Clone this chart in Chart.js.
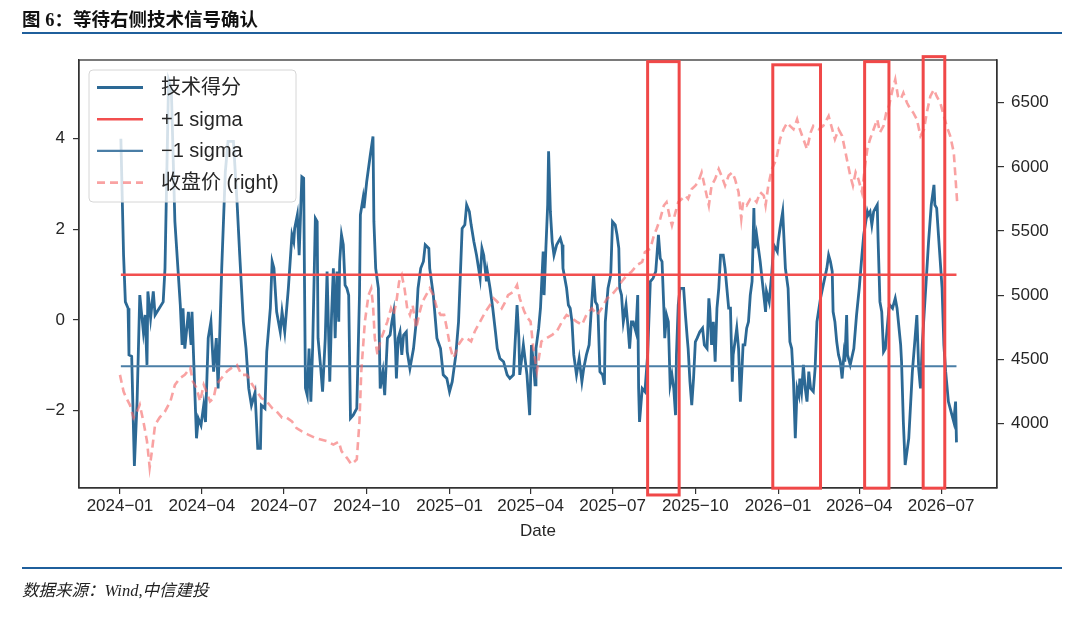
<!DOCTYPE html>
<html lang="zh-CN">
<head>
<meta charset="utf-8">
<title>图 6：等待右侧技术信号确认</title>
<script src="https://cdn.jsdelivr.net/npm/chart.js@4.4.1/dist/chart.umd.min.js"></script>
<style>
  html, body { margin: 0; padding: 0; background: #fff; }
  body { width: 1080px; height: 617px; position: relative; overflow: hidden; }
  #chart { position: absolute; left: 0; top: 0; }
  .title { position: absolute; left: 22px; top: 5px; line-height: 24px; font: bold 18.5px "Liberation Serif", "Noto Sans CJK SC", serif; color: #111; }
  .rule { position: absolute; left: 22px; width: 1040px; height: 2px; background: #1f5f9c; }
  .source { position: absolute; left: 22px; top: 577px; line-height: 22px; font: italic 16.5px "Liberation Serif", "Noto Sans CJK SC", serif; color: #222; }
</style>
</head>
<body>
<canvas id="chart" width="1080" height="617"></canvas>
<div class="title">图 6：等待右侧技术信号确认</div>
<div class="rule" style="top:32px"></div>
<div class="rule" style="top:567px"></div>
<div class="source">数据来源：Wind,中信建投</div>
<script>
'use strict';

// ── Datos (x = días desde 2024-01-01) ───────────────────────────────────────

const tickDays   = [0, 91, 182, 274, 366, 456, 547, 639, 731, 821, 912];
const tickLabels = ['2024−01', '2024−04', '2024−07', '2024−10', '2025−01', '2025−04',
                    '2025−07', '2025−10', '2026−01', '2026−04', '2026−07'];
const scoreTicks = [-2, 0, 2, 4];
const priceTicks = [4000, 4500, 5000, 5500, 6000, 6500];

const scoreDay = [
  1, 4, 6, 9, 10, 13, 16, 19, 22, 26,
  28, 30, 31, 34, 37, 39, 48, 50, 54, 57,
  61, 67, 69, 70, 72, 76, 79, 80, 83, 85,
  87, 90, 93, 95, 98, 101, 104, 107, 109, 113,
  117, 120, 126, 130, 133, 137, 140, 143, 146, 150,
  153, 156, 157, 161, 163, 167, 169, 171, 174, 178,
  180, 183, 187, 191, 193, 194, 197, 199, 202, 204,
  205, 206, 208, 210, 212, 214, 217, 219, 220, 223,
  225, 228, 230, 231, 233, 235, 237, 239, 241, 243,
  244, 246, 248, 250, 252, 254, 256, 259, 263, 266,
  267, 270, 271, 274, 278, 281, 282, 284, 287, 289,
  292, 294, 297, 300, 302, 304, 306, 307, 309, 311,
  313, 315, 318, 319, 322, 326, 329, 331, 334, 337,
  339, 343, 344, 348, 352, 356, 359, 363, 366, 369,
  370, 373, 376, 380, 383, 385, 388, 390, 393, 396,
  400, 402, 404, 407, 408, 411, 414, 417, 419, 422,
  426, 430, 433, 437, 441, 443, 444, 448, 452, 455,
  457, 459, 461, 462, 465, 467, 470, 471, 473, 475,
  476, 478, 480, 482, 485, 489, 491, 492, 496, 498,
  500, 502, 504, 507, 510, 513, 515, 518, 521, 524,
  526, 528, 530, 531, 533, 536, 538, 539, 542, 545,
  547, 550, 552, 554, 555, 557, 559, 562, 564, 566,
  568, 570, 573, 575, 576, 577, 580, 583, 586, 589,
  592, 595, 598, 600, 602, 604, 605, 607, 609, 611,
  613, 615, 617, 618, 620, 622, 626, 628, 630, 631,
  633, 635, 637, 639, 641, 644, 647, 649, 652, 654,
  655, 657, 659, 661, 663, 665, 667, 670, 672, 674,
  676, 678, 680, 681, 683, 685, 687, 689, 691, 692,
  694, 696, 698, 700, 702, 704, 705, 707, 711, 715,
  717, 718, 721, 724, 726, 730, 731, 733, 736, 739,
  742, 744, 746, 748, 750, 752, 754, 755, 757, 759,
  761, 763, 765, 767, 770, 772, 774, 778, 781, 785,
  787, 789, 791, 792, 794, 796, 798, 800, 802, 804,
  805, 807, 808, 811, 815, 818, 821, 824, 826, 830,
  831, 833, 835, 837, 839, 841, 842, 844, 846, 848,
  850, 854, 855, 858, 861, 863, 867, 868, 870, 872,
  876, 880, 883, 885, 887, 889, 891, 893, 896, 898,
  901, 904, 905, 907, 910, 913, 915, 917, 918, 920,
  922, 924, 926, 928, 929,
];

const scoreVal = [
  4.0, 1.43, 0.40, 0.26, -0.77, -0.80, -3.22, -1.80, 0.55, -0.26,
  0.11, -0.99, 0.63, 0.04, 0.63, 0.11, 0.40, 1.14, 5.3, 5.11,
  2.17, 0.33, -0.55, 0.26, -0.63, 0.18, -0.55, 0.18, -1.51, -2.61,
  -2.17, -2.32, -1.88, -2.25, -0.40, -0.04, -1.14, -0.40, -1.51, 1.14,
  3.27, 3.94, 3.94, 2.61, 1.43, -0.04, -0.63, -1.51, -1.88, -1.60,
  -2.83, -2.83, -1.88, -1.95, -0.70, 0.26, 1.29, 1.14, 0.18, -0.26,
  0.18, -0.26, 0.70, 1.88, 1.73, 2.02, 2.32, 1.43, 3.16, 3.13,
  0.70, -1.50, -1.66, -0.63, -1.80, -0.60, 2.24, 2.17, -0.40, -1.07,
  -1.58, -0.40, 1.07, 1.07, -1.36, 0.11, 1.14, -0.40, 1.07, -0.04,
  1.29, 1.88, 1.66, 0.77, 0.70, 0.55, -2.17, -2.10, -1.95, 0.55,
  2.32, 2.69, 2.47, 3.05, 3.64, 4.05, 2.17, 1.14, 0.70, -1.51,
  -1.14, -1.66, -0.40, -0.33, -0.04, 0.18, -0.63, -1.29, -0.40, -0.26,
  -0.77, -0.33, -0.26, -0.70, -1.07, -0.63, -0.04, 0.70, 1.14, 1.29,
  1.66, 1.58, 1.14, 0.55, -0.40, -0.63, -1.21, -1.29, -1.58, -1.36,
  -1.21, -0.77, -0.04, 2.02, 2.10, 2.54, 2.39, 2.10, 1.73, 1.43,
  0.92, 1.58, 1.43, 0.85, 1.07, 0.70, 0.26, -0.26, -0.63, -0.85,
  -0.92, -1.21, -1.29, -1.21, 0.33, -0.40, -1.21, -0.55, -1.21, -2.10,
  -0.55, -0.92, -1.43, -0.63, -0.18, 0.26, 1.51, 0.55, 1.58, 2.54,
  3.72, 2.39, 1.73, 1.43, 1.66, 1.80, 1.66, 1.14, 0.70, 0.33,
  0.26, -0.04, -0.77, -1.21, -0.85, -1.36, -1.07, -0.77, -0.55, 0.40,
  0.99, 0.40, 0.33, 0.11, -1.14, -1.21, -1.43, -0.04, 0.70, 0.99,
  2.17, 2.10, 1.88, 1.58, 0.70, 0.55, -0.04, 0.33, -0.11, -0.63,
  -0.04, -0.04, -0.26, 0.55, -1.51, -2.25, -1.51, -1.58, -0.77, 0.85,
  0.92, 1.07, 1.88, 1.36, 1.29, 0.26, -0.40, 0.11, -0.04, -1.43,
  -1.21, -1.51, -2.10, -0.77, 0.33, 0.70, 0.70, 0.11, -0.40, -0.63,
  -1.36, -1.88, -1.29, -0.48, -0.40, -0.26, -0.18, -0.55, -0.63, 0.48,
  0.26, -0.55, -0.04, -0.92, 0.26, 0.70, 1.43, 1.43, 1.14, 0.70,
  0.26, 0.26, -1.36, -0.77, -0.48, -0.18, -0.63, -1.80, -0.99, -0.55,
  -0.55, -0.18, -0.04, 0.55, 0.85, 2.47, 1.58, 1.88, 1.29, 0.55,
  0.18, 0.63, 0.40, 1.07, 1.66, 1.51, 1.73, 2.02, 2.39, 1.14,
  0.70, -0.48, -0.63, -1.36, -2.61, -1.51, -1.66, -1.29, -1.58, -0.99,
  -1.51, -1.80, -1.14, -1.51, -1.58, -1.07, -0.04, 0.48, 0.77, 1.14,
  1.43, 1.29, 1.07, 0.18, -0.04, -0.48, -0.77, -0.92, -1.29, -0.77,
  -0.92, 0.11, -0.77, -0.99, -0.63, 0.11, 0.70, 1.43, 1.88, 2.39,
  2.32, 2.39, 2.10, 2.39, 2.47, 2.54, 1.73, 0.40, 0.18, -0.70,
  -0.63, 0.26, 0.33, 0.26, 0.48, 0.26, -0.55, -0.92, -2.25, -3.20,
  -2.61, -1.14, -0.40, 0.11, -1.07, -1.51, -0.55, 0.11, 1.07, 1.73,
  2.54, 2.98, 2.54, 2.47, 1.58, 0.70, -0.55, -1.14, -1.36, -1.80,
  -1.95, -2.10, -2.25, -1.80, -2.70,
];

const priceDay = [
  0, 4, 7, 11, 15, 19, 22, 26, 30, 33,
  36, 39, 44, 50, 56, 61, 67, 72, 78, 81,
  85, 89, 93, 96, 100, 104, 107, 113, 119, 124,
  130, 135, 141, 146, 152, 157, 163, 169, 174, 180,
  185, 191, 196, 202, 209, 217, 230, 237, 243, 246,
  252, 257, 263, 266, 268, 272, 276, 279, 281, 283,
  286, 289, 293, 297, 301, 304, 307, 310, 313, 316,
  319, 322, 325, 329, 333, 336, 340, 344, 348, 352,
  356, 360, 363, 367, 370, 372, 376, 381, 385, 390,
  394, 400, 406, 411, 415, 419, 424, 428, 431, 437,
  441, 444, 449, 453, 456, 459, 463, 468, 474, 480,
  485, 491, 496, 502, 507, 513, 518, 524, 530, 535,
  541, 546, 552, 557, 563, 568, 574, 580, 583, 589,
  593, 596, 600, 604, 607, 611, 613, 617, 620, 624,
  628, 631, 635, 639, 642, 646, 650, 654, 657, 661,
  665, 668, 672, 676, 680, 683, 687, 690, 692, 696,
  700, 704, 707, 711, 715, 717, 720, 724, 729, 733,
  737, 741, 744, 748, 752, 755, 759, 763, 767, 770,
  776, 781, 787, 791, 794, 798, 802, 805, 808, 811,
  814, 817, 820, 824, 827, 830, 833, 837, 841, 844,
  848, 851, 854, 858, 861, 864, 867, 870, 874, 878,
  881, 885, 889, 893, 896, 900, 904, 907, 911, 915,
  918, 922, 926, 928, 930,
];

const priceVal = [
  4380, 4250, 4200, 4147, 4047, 4095, 4147, 4018, 3863, 3659,
  3814, 3992, 4047, 4095, 4173, 4302, 4357, 4380, 4434, 4328,
  4279, 4173, 4302, 4250, 4173, 4200, 4302, 4357, 4408, 4434,
  4457, 4380, 4380, 4315, 4250, 4200, 4173, 4121, 4095, 4047,
  4047, 4018, 3966, 3940, 3915, 3889, 3863, 3837, 3860, 3786,
  3734, 3683, 3721, 4018, 4408, 4795, 5001, 5053, 4924, 4666,
  4537, 4640, 4718, 4795, 4898, 4847, 4950, 5105, 5156, 5053,
  4898, 4847, 4924, 4743, 4873, 4950, 5001, 5053, 5001, 4898,
  4847, 4847, 4743, 4589, 4511, 4537, 4615, 4666, 4666, 4640,
  4718, 4795, 4873, 4924, 4976, 4950, 4898, 4950, 5001, 5027,
  5079, 4976, 4873, 4821, 4795, 4589, 4408, 4640, 4666, 4692,
  4718, 4795, 4847, 4821, 4795, 4769, 4847, 4898, 4847, 4898,
  4976, 5001, 5053, 5105, 5156, 5182, 5234, 5260, 5337, 5363,
  5466, 5518, 5595, 5699, 5725, 5595, 5543, 5647, 5725, 5750,
  5776, 5750, 5828, 5854, 5880, 5957, 5828, 5699, 5854, 5906,
  5983, 5932, 5854, 5932, 5957, 5906, 5802, 5595, 5725, 5699,
  5750, 5750, 5725, 5802, 5776, 5699, 5854, 5983, 6060, 6215,
  6293, 6344, 6319, 6293, 6370, 6293, 6215, 6138, 6267, 6319,
  6293, 6319, 6396, 6293, 6215, 6293, 6241, 6138, 6034, 5932,
  5854, 5957, 5906, 5802, 5983, 6138, 6215, 6293, 6370, 6267,
  6319, 6422, 6473, 6602, 6680, 6550, 6525, 6576, 6499, 6447,
  6422, 6370, 6241, 6293, 6422, 6550, 6602, 6550, 6499, 6396,
  6319, 6241, 6112, 5906, 5699,
];

const sigmaUpper = 1.0;
const sigmaLower = -1.02;

// Recuadros rojos (días, valores del eje izquierdo)
const boxStart  = [586, 725, 827, 892];
const boxEnd    = [621, 778, 854, 916];
const boxTop    = [5.70, 5.63, 5.70, 5.81];
const boxBottom = [-3.86, -3.71, -3.71, -3.71];

// ── Estilo ──────────────────────────────────────────────────────────────────

const TICK_FONT = { family: '"Liberation Sans", Arial, sans-serif', size: 17 };
const INK = '#262626';
const AXIS = '#333333';

const xy = (days, vals) => days.map((d, i) => ({ x: d, y: vals[i] }));
const fmtMinus = v => (v < 0 ? '−' + Math.abs(v) : String(v));
const first = scoreDay[0];
const last  = scoreDay[scoreDay.length - 1];

const datasets = [
  {
    label: '技术得分',
    data: xy(scoreDay, scoreVal),
    yAxisID: 'y',
    borderColor: '#2c6995',
    borderWidth: 2.8,
    order: 4,
  },
  {
    label: '+1 sigma',
    data: [{ x: first, y: sigmaUpper }, { x: last, y: sigmaUpper }],
    yAxisID: 'y',
    borderColor: '#f24f4f',
    borderWidth: 2.6,
    order: 3,
  },
  {
    label: '−1 sigma',
    data: [{ x: first, y: sigmaLower }, { x: last, y: sigmaLower }],
    yAxisID: 'y',
    borderColor: '#4a7ea6',
    borderWidth: 2.2,
    order: 2,
  },
  {
    label: '收盘价 (right)',
    data: xy(priceDay, priceVal),
    yAxisID: 'y1',
    borderColor: 'rgba(246, 105, 105, 0.62)',
    borderWidth: 2.6,
    borderDash: [8, 5],
    order: 1,
  },
];

// ── Marco, recuadros y leyenda ──────────────────────────────────────────────

const overlay = {
  id: 'overlay',
  afterDatasetsDraw(chart) {
    const { ctx, chartArea: a } = chart;
    ctx.save();
    ctx.strokeStyle = AXIS;
    ctx.lineWidth = 1.3;
    ctx.strokeRect(a.left, a.top, a.right - a.left, a.bottom - a.top);
    ctx.restore();
  },
  afterDraw(chart) {
    const { ctx, chartArea: a } = chart;
    const sx = chart.scales.x, sy = chart.scales.y;

    // recuadros
    ctx.save();
    ctx.strokeStyle = '#f04848';
    ctx.lineWidth = 3;
    boxStart.forEach((s, i) => {
      const x0 = sx.getPixelForValue(s), x1 = sx.getPixelForValue(boxEnd[i]);
      const y0 = sy.getPixelForValue(boxTop[i]), y1 = sy.getPixelForValue(boxBottom[i]);
      ctx.strokeRect(x0, y0, x1 - x0, y1 - y0);
    });
    ctx.restore();

    // leyenda
    const lx = a.left + 10, ly = a.top + 10, lw = 207, lh = 132;
    ctx.save();
    ctx.beginPath();
    ctx.roundRect(lx, ly, lw, lh, 4);
    ctx.fillStyle = 'rgba(255,255,255,0.8)';
    ctx.fill();
    ctx.strokeStyle = '#d6d6d6';
    ctx.lineWidth = 1;
    ctx.stroke();
    ctx.font = '20px "Liberation Sans", "Noto Sans CJK SC", sans-serif';
    ctx.textBaseline = 'middle';
    ctx.textAlign = 'left';
    datasets.forEach((ds, i) => {
      const cy = ly + 17.5 + i * 31.7;
      ctx.beginPath();
      ctx.setLineDash(ds.borderDash || []);
      ctx.strokeStyle = ds.borderColor;
      ctx.lineWidth = ds.borderWidth;
      ctx.moveTo(lx + 8, cy);
      ctx.lineTo(lx + 54, cy);
      ctx.stroke();
      ctx.setLineDash([]);
      ctx.fillStyle = INK;
      ctx.fillText(ds.label, lx + 72, cy + 1);
    });
    ctx.restore();
  },
};

// ── Gráfico ─────────────────────────────────────────────────────────────────

new Chart(document.getElementById('chart'), {
  type: 'line',
  data: { datasets },
  options: {
    responsive: false,
    animation: false,
    events: [],
    elements: { point: { radius: 0 }, line: { tension: 0 } },
    layout: { padding: { left: 29, right: 23, top: 60, bottom: 72 } },
    plugins: { legend: { display: false }, tooltip: { enabled: false } },
    scales: {
      x: {
        type: 'linear',
        min: -45.5,
        max: 974,
        afterBuildTicks: s => { s.ticks = tickDays.map(v => ({ value: v })); },
        afterFit: s => { s.height = 57; },
        ticks: {
          autoSkip: false,
          maxRotation: 0,
          padding: 2,
          color: INK,
          font: TICK_FONT,
          callback: v => tickLabels[tickDays.indexOf(v)],
        },
        grid: { drawOnChartArea: false, tickLength: 6, color: AXIS, lineWidth: 1.2 },
        border: { color: AXIS, width: 1.3 },
        title: { display: true, text: 'Date', color: INK, font: TICK_FONT, padding: { top: 0, bottom: 3 } },
      },
      y: {
        position: 'left',
        min: -3.706,
        max: 5.736,
        afterBuildTicks: s => { s.ticks = scoreTicks.map(v => ({ value: v })); },
        afterFit: s => { s.width = 50; },
        ticks: { padding: 8, color: INK, font: TICK_FONT, callback: fmtMinus },
        grid: { drawOnChartArea: false, tickLength: 6, color: AXIS, lineWidth: 1.2 },
        border: { color: AXIS, width: 1.3 },
      },
      y1: {
        position: 'right',
        min: 3499,
        max: 6832,
        afterBuildTicks: s => { s.ticks = priceTicks.map(v => ({ value: v })); },
        afterFit: s => { s.width = 60; },
        ticks: { padding: 7, color: INK, font: TICK_FONT, callback: v => String(v) },
        grid: { drawOnChartArea: false, tickLength: 7, color: AXIS, lineWidth: 1.2 },
        border: { color: AXIS, width: 1.3 },
      },
    },
  },
  plugins: [overlay],
});
</script>
</body>
</html>
